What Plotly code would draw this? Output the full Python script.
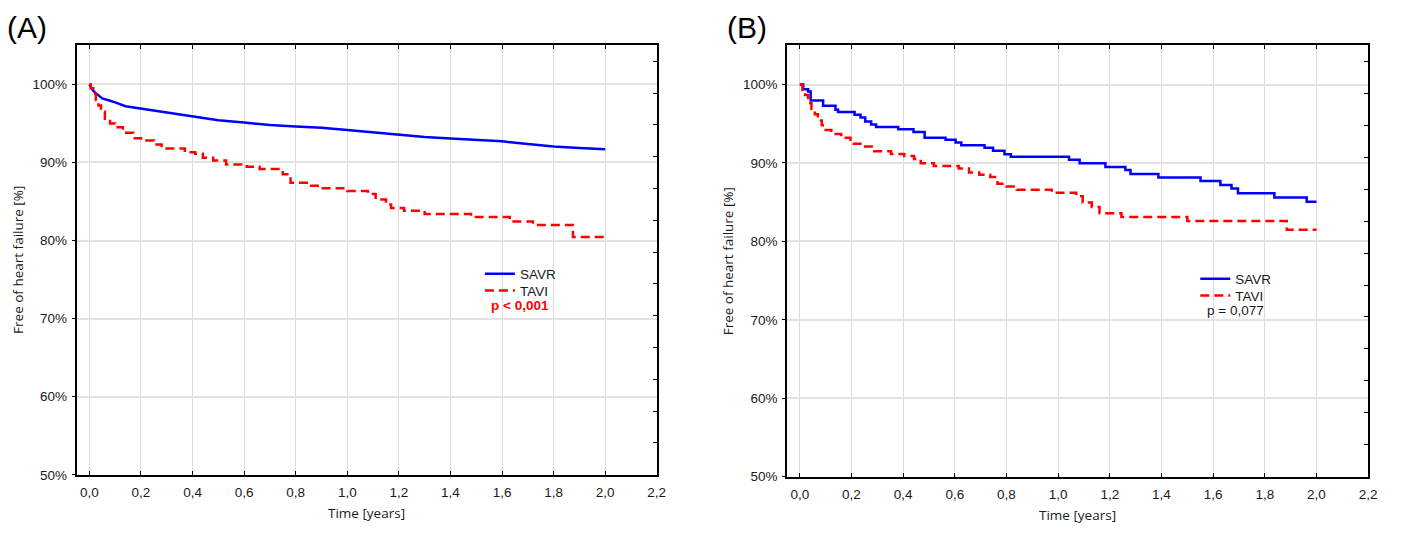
import plotly.graph_objects as go

# ---------------- data ----------------
panel_labels = ["(A)", "(B)"]
series_names = ["SAVR", "TAVI"]
p_texts = ["p < 0,001", "p = 0,077"]
y_ticks = [50, 60, 70, 80, 90, 100]
y_tick_text = [f"{v}%" for v in y_ticks]
x_ticks = [0.0, 0.2, 0.4, 0.6, 0.8, 1.0, 1.2, 1.4, 1.6, 1.8, 2.0, 2.2]

# Panel A – SAVR (dense KM curve, appears smooth)
savr_a_t = [0, 0.01, 0.02, 0.03, 0.05, 0.08, 0.10, 0.14, 0.20, 0.28, 0.40, 0.50, 0.60,
            0.70, 0.80, 0.90, 1.00, 1.10, 1.20, 1.30, 1.40, 1.50, 1.60, 1.70, 1.80, 1.90, 2.00]
savr_a_s = [100, 99.4, 99.0, 98.7, 98.2, 97.9, 97.7, 97.2, 96.9, 96.45, 95.85, 95.4, 95.1,
            94.8, 94.6, 94.45, 94.15, 93.85, 93.5, 93.25, 93.05, 92.9, 92.7, 92.35, 92.05, 91.85, 91.7]

# Panel A – TAVI (step function)
tavi_a_t = [0, 0.005, 0.015, 0.025, 0.035, 0.045, 0.06, 0.08, 0.10, 0.13, 0.17, 0.20, 0.25,
            0.28, 0.37, 0.41, 0.44, 0.48, 0.53, 0.61, 0.66, 0.75, 0.78, 0.85, 0.90, 1.00,
            1.08, 1.11, 1.15, 1.17, 1.22, 1.30, 1.48, 1.63, 1.72, 1.875, 2.00]
tavi_a_s = [100, 99.5, 98.8, 98.0, 97.3, 96.5, 95.6, 95.0, 94.5, 93.8, 93.1, 92.8, 92.3,
            91.8, 91.3, 91.1, 90.6, 90.25, 89.75, 89.45, 89.15, 88.5, 87.4, 87.0, 86.7, 86.35,
            85.95, 85.25, 84.6, 84.15, 83.8, 83.4, 83.0, 82.45, 82.0, 80.45, 80.45]

# Panel B – SAVR (step function)
savr_b_t = [0, 0.013, 0.032, 0.042, 0.09, 0.138, 0.148, 0.212, 0.235, 0.253, 0.276, 0.295,
            0.381, 0.44, 0.483, 0.564, 0.603, 0.625, 0.715, 0.748, 0.792, 0.817, 1.042, 1.083,
            1.183, 1.26, 1.28, 1.388, 1.551, 1.628, 1.671, 1.696, 1.837, 1.962, 2.00]
savr_b_s = [100, 99.4, 99.1, 97.95, 97.3, 96.8, 96.5, 96.15, 95.8, 95.3, 94.9, 94.6,
            94.3, 93.95, 93.2, 92.95, 92.6, 92.25, 91.95, 91.55, 91.1, 90.8, 90.4, 89.95,
            89.5, 89.1, 88.6, 88.15, 87.7, 87.2, 86.75, 86.15, 85.6, 85.05, 85.05]

# Panel B – TAVI (step function)
tavi_b_t = [0, 0.01, 0.02, 0.032, 0.045, 0.058, 0.07, 0.085, 0.10, 0.122, 0.16, 0.196, 0.244,
            0.288, 0.353, 0.404, 0.442, 0.468, 0.519, 0.615, 0.655, 0.695, 0.737, 0.765, 0.80,
            0.84, 0.975, 1.07, 1.095, 1.13, 1.16, 1.245, 1.50, 1.885, 2.00]
tavi_b_s = [100, 99.3, 98.65, 97.6, 96.9, 96.2, 95.4, 94.8, 94.2, 93.7, 93.2, 92.45, 92.1,
            91.5, 91.15, 90.9, 90.5, 89.95, 89.6, 89.3, 88.8, 88.5, 88.2, 87.35, 87.0,
            86.6, 86.2, 85.75, 84.95, 84.4, 83.6, 83.1, 82.6, 81.5, 81.5]

# ---------------- styling ----------------
W, H = 1403, 534
BLUE = "#0000ff"
RED = "#ff0000"
SANS = "Arial, Liberation Sans, sans-serif"
TICK_FONT = dict(family=SANS, size=13.5, color="#1a1a1a")
TITLE_FONT = dict(family="Open Sans", size=13.5, color="#1a1a1a")

def px_x(p):
    return p / W

def px_y(p):
    return 1 - p / H

# panel geometry (pixels)
A_L, A_R, A_T, A_B = 77, 661, 46, 482
B_L, B_R, B_T, B_B = 792, 1377, 46, 484

fig = go.Figure()

blue_line = dict(color=BLUE, width=2.5)
red_line = dict(color=RED, width=2.5, dash="9px,5px")

fig.add_trace(go.Scatter(x=savr_a_t, y=savr_a_s, mode="lines", line=blue_line,
                         name=series_names[0], xaxis="x", yaxis="y", legend="legend"))
fig.add_trace(go.Scatter(x=tavi_a_t, y=tavi_a_s, mode="lines", line=red_line, line_shape="hv",
                         name=series_names[1], xaxis="x", yaxis="y", legend="legend2"))
fig.add_trace(go.Scatter(x=savr_b_t, y=savr_b_s, mode="lines", line=blue_line, line_shape="hv",
                         name=series_names[0], xaxis="x2", yaxis="y2", legend="legend3"))
fig.add_trace(go.Scatter(x=tavi_b_t, y=tavi_b_s, mode="lines", line=red_line, line_shape="hv",
                         name=series_names[1], xaxis="x2", yaxis="y2", legend="legend4"))
# empty traces to activate right-hand tick axes
fig.add_trace(go.Scatter(x=[], y=[], xaxis="x", yaxis="y3", showlegend=False, hoverinfo="skip"))
fig.add_trace(go.Scatter(x=[], y=[], xaxis="x2", yaxis="y4", showlegend=False, hoverinfo="skip"))

def xaxis_cfg(L, R, anchor):
    return dict(domain=[px_x(L), px_x(R)], anchor=anchor, range=[-0.05, 2.2],
                tickvals=x_ticks, tickformat=".1f", ticks="inside", ticklen=4, tickwidth=1,
                tickcolor="black", showline=True, linecolor="black", linewidth=1.5,
                mirror="ticks", showgrid=True, gridcolor="#dcdcdc", gridwidth=1,
                zeroline=False, tickfont=TICK_FONT, ticklabelstandoff=4)

def yaxis_cfg(T, B, anchor):
    return dict(domain=[px_y(B), px_y(T)], anchor=anchor, range=[50, 105],
                tickmode="array", tickvals=y_ticks, ticktext=y_tick_text,
                ticks="outside", ticklen=3, tickwidth=1,
                tickcolor="black", showline=True, linecolor="black", linewidth=1.5,
                mirror=True, showgrid=True, gridcolor="#e3e3e3", gridwidth=1.5,
                zeroline=False, tickfont=TICK_FONT, ticklabelstandoff=2)

def right_cfg(T, B, over, anchor):
    return dict(domain=[px_y(B), px_y(T)], overlaying=over, anchor=anchor, side="right",
                range=[0, 13.5], dtick=1, tick0=0, ticks="inside", ticklen=4, tickwidth=1,
                tickcolor="black", showticklabels=False, showgrid=False, showline=False,
                zeroline=False)

legend_common = dict(font=dict(family=SANS, size=13.5, color="#1a1a1a"),
                     bgcolor="rgba(0,0,0,0)", borderwidth=0, tracegroupgap=0,
                     itemwidth=30, xanchor="left", yanchor="top")

LEG_DY = 9.5  # item centre below legend top
fig.update_layout(
    width=W, height=H,
    margin=dict(l=0, r=0, t=0, b=0),
    paper_bgcolor="white", plot_bgcolor="white",
    separators=", ",
    showlegend=True,
    xaxis=xaxis_cfg(A_L, A_R, "y"),
    yaxis=yaxis_cfg(A_T, A_B, "x"),
    xaxis2=xaxis_cfg(B_L, B_R, "y2"),
    yaxis2=yaxis_cfg(B_T, B_B, "x2"),
    yaxis3=right_cfg(A_T, A_B, "y", "x"),
    yaxis4=right_cfg(B_T, B_B, "y2", "x2"),
    legend=dict(x=px_x(483), y=px_y(272 - LEG_DY), **legend_common),
    legend2=dict(x=px_x(483), y=px_y(289 - LEG_DY), **legend_common),
    legend3=dict(x=px_x(1203), y=px_y(277 - LEG_DY), **legend_common),
    legend4=dict(x=px_x(1203), y=px_y(294 - LEG_DY), **legend_common),
)

annotations = [
    dict(text=panel_labels[0], x=px_x(5), y=px_y(28), xanchor="left", yanchor="middle",
         font=dict(family=SANS, size=30, color="black")),
    dict(text=panel_labels[1], x=px_x(730), y=px_y(28), xanchor="left", yanchor="middle",
         font=dict(family=SANS, size=30, color="black")),
    dict(text="<b>" + p_texts[0] + "</b>", x=px_x(523), y=px_y(310), xanchor="center",
         yanchor="middle", font=dict(family=SANS, size=13.5, color=RED)),
    dict(text=p_texts[1], x=px_x(1243), y=px_y(315), xanchor="center", yanchor="middle",
         font=dict(family=SANS, size=13.5, color="#1a1a1a")),
    dict(text="Time [years]", x=px_x((A_L + A_R) / 2), y=px_y(521), xanchor="center",
         yanchor="middle", font=TITLE_FONT),
    dict(text="Time [years]", x=px_x((B_L + B_R) / 2), y=px_y(523), xanchor="center",
         yanchor="middle", font=TITLE_FONT),
    dict(text="Free of heart failure [%]", x=px_x(18), y=px_y((A_T + A_B) / 2), textangle=-90,
         xanchor="center", yanchor="middle", font=TITLE_FONT),
    dict(text="Free of heart failure [%]", x=px_x(733), y=px_y((B_T + B_B) / 2), textangle=-90,
         xanchor="center", yanchor="middle", font=TITLE_FONT),
]
for a in annotations:
    a.update(xref="paper", yref="paper", showarrow=False)
fig.update_layout(annotations=annotations)

# remove the default 8px page margin so the figure fills the window exactly
fig.write_html(
    "out.html",
    config={"displayModeBar": False},
    post_script="document.body.style.margin='0px';"
                "document.documentElement.style.overflow='hidden';",
)
